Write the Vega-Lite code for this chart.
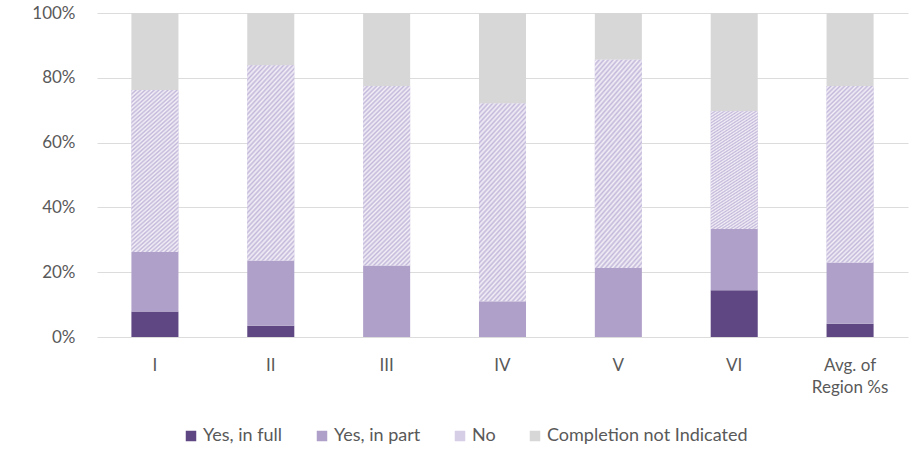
{
  "$schema": "https://vega.github.io/schema/vega-lite/v6.json",
  "width": 811,
  "height": 324,
  "autosize": {"type": "none"},
  "padding": {"left": 97, "top": 13, "right": 14, "bottom": 129},
  "background": "white",
  "config": {
    "view": {"stroke": null},
    "font": "Lato",
    "axis": {"labelFont": "Lato", "labelColor": "#595959", "labelFontSize": 17, "title": null}
  },
  "data": {
    "values": [
      {"region": "I", "cat": "Yes, in full", "k": 1, "value": 7.9},
      {"region": "I", "cat": "Yes, in part", "k": 2, "value": 18.3},
      {"region": "I", "cat": "No", "k": 3, "value": 50.0},
      {"region": "I", "cat": "Completion not Indicated", "k": 4, "value": 23.8},
      {"region": "II", "cat": "Yes, in full", "k": 1, "value": 3.5},
      {"region": "II", "cat": "Yes, in part", "k": 2, "value": 20.1},
      {"region": "II", "cat": "No", "k": 3, "value": 60.3},
      {"region": "II", "cat": "Completion not Indicated", "k": 4, "value": 16.1},
      {"region": "III", "cat": "Yes, in full", "k": 1, "value": 0},
      {"region": "III", "cat": "Yes, in part", "k": 2, "value": 22.1},
      {"region": "III", "cat": "No", "k": 3, "value": 55.4},
      {"region": "III", "cat": "Completion not Indicated", "k": 4, "value": 22.5},
      {"region": "IV", "cat": "Yes, in full", "k": 1, "value": 0},
      {"region": "IV", "cat": "Yes, in part", "k": 2, "value": 11.0},
      {"region": "IV", "cat": "No", "k": 3, "value": 61.1},
      {"region": "IV", "cat": "Completion not Indicated", "k": 4, "value": 27.9},
      {"region": "V", "cat": "Yes, in full", "k": 1, "value": 0},
      {"region": "V", "cat": "Yes, in part", "k": 2, "value": 21.3},
      {"region": "V", "cat": "No", "k": 3, "value": 64.3},
      {"region": "V", "cat": "Completion not Indicated", "k": 4, "value": 14.4},
      {"region": "VI", "cat": "Yes, in full", "k": 1, "value": 14.4},
      {"region": "VI", "cat": "Yes, in part", "k": 2, "value": 18.9},
      {"region": "VI", "cat": "No", "k": 3, "value": 36.4},
      {"region": "VI", "cat": "Completion not Indicated", "k": 4, "value": 30.3},
      {"region": "Avg. of Region %s", "cat": "Yes, in full", "k": 1, "value": 4.1},
      {"region": "Avg. of Region %s", "cat": "Yes, in part", "k": 2, "value": 18.9},
      {"region": "Avg. of Region %s", "cat": "No", "k": 3, "value": 54.5},
      {"region": "Avg. of Region %s", "cat": "Completion not Indicated", "k": 4, "value": 22.5}
    ]
  },
  "transform": [
    {"stack": "value", "groupby": ["region"], "sort": [{"field": "k", "order": "ascending"}], "as": ["y0", "y1"]}
  ],
  "encoding": {
    "x": {
      "field": "region",
      "type": "nominal",
      "sort": null,
      "scale": {"paddingInner": 0.594, "paddingOuter": 0.297},
      "axis": {
        "labelAngle": 0,
        "ticks": false,
        "domain": false,
        "labelPadding": 20,
        "labelLineHeight": 22,
        "labelExpr": "datum.label == 'Avg. of Region %s' ? ['Avg. of', 'Region %s'] : datum.label"
      }
    },
    "y": {
      "field": "y0",
      "type": "quantitative",
      "scale": {"domain": [0, 100], "nice": false},
      "axis": {
        "values": [0, 20, 40, 60, 80, 100],
        "labelExpr": "datum.value + '%'",
        "ticks": false,
        "domain": false,
        "grid": true,
        "gridColor": "#dcdcdc",
        "gridWidth": 1,
        "labelPadding": 22
      }
    },
    "y2": {"field": "y1"}
  },
  "layer": [
    {
      "mark": {"type": "bar"},
      "encoding": {
        "color": {
          "field": "cat",
          "type": "nominal",
          "scale": {
            "domain": ["Yes, in full", "Yes, in part", "No", "Completion not Indicated"],
            "range": ["#5e4782", "#afa0c9", "#d6cde6", "#d7d7d7"]
          },
          "legend": {
            "title": null,
            "orient": "none",
            "direction": "horizontal",
            "legendX": 85,
            "legendY": 414,
            "symbolType": "square",
            "symbolSize": 110,
            "symbolStrokeWidth": 0,
            "labelFont": "Lato",
            "labelFontSize": 18,
            "labelColor": "#595959",
            "labelOffset": 3,
            "labelLimit": 400,
            "columnPadding": 30
          }
        }
      }
    },
    {
      "transform": [{"filter": "datum.cat == 'No'"}],
      "mark": {
        "type": "bar",
        "fill": {
          "gradient": "linear",
          "x1": 0, "y1": 0, "x2": 0.307, "y2": 1.18,
          "stops": [
            {"offset": 0.00, "color": "#c3b8da"}, {"offset": 0.01, "color": "#f3f0f7"},
            {"offset": 0.02, "color": "#c3b8da"}, {"offset": 0.03, "color": "#f3f0f7"},
            {"offset": 0.04, "color": "#c3b8da"}, {"offset": 0.05, "color": "#f3f0f7"},
            {"offset": 0.06, "color": "#c3b8da"}, {"offset": 0.07, "color": "#f3f0f7"},
            {"offset": 0.08, "color": "#c3b8da"}, {"offset": 0.09, "color": "#f3f0f7"},
            {"offset": 0.10, "color": "#c3b8da"}, {"offset": 0.11, "color": "#f3f0f7"},
            {"offset": 0.12, "color": "#c3b8da"}, {"offset": 0.13, "color": "#f3f0f7"},
            {"offset": 0.14, "color": "#c3b8da"}, {"offset": 0.15, "color": "#f3f0f7"},
            {"offset": 0.16, "color": "#c3b8da"}, {"offset": 0.17, "color": "#f3f0f7"},
            {"offset": 0.18, "color": "#c3b8da"}, {"offset": 0.19, "color": "#f3f0f7"},
            {"offset": 0.20, "color": "#c3b8da"}, {"offset": 0.21, "color": "#f3f0f7"},
            {"offset": 0.22, "color": "#c3b8da"}, {"offset": 0.23, "color": "#f3f0f7"},
            {"offset": 0.24, "color": "#c3b8da"}, {"offset": 0.25, "color": "#f3f0f7"},
            {"offset": 0.26, "color": "#c3b8da"}, {"offset": 0.27, "color": "#f3f0f7"},
            {"offset": 0.28, "color": "#c3b8da"}, {"offset": 0.29, "color": "#f3f0f7"},
            {"offset": 0.30, "color": "#c3b8da"}, {"offset": 0.31, "color": "#f3f0f7"},
            {"offset": 0.32, "color": "#c3b8da"}, {"offset": 0.33, "color": "#f3f0f7"},
            {"offset": 0.34, "color": "#c3b8da"}, {"offset": 0.35, "color": "#f3f0f7"},
            {"offset": 0.36, "color": "#c3b8da"}, {"offset": 0.37, "color": "#f3f0f7"},
            {"offset": 0.38, "color": "#c3b8da"}, {"offset": 0.39, "color": "#f3f0f7"},
            {"offset": 0.40, "color": "#c3b8da"}, {"offset": 0.41, "color": "#f3f0f7"},
            {"offset": 0.42, "color": "#c3b8da"}, {"offset": 0.43, "color": "#f3f0f7"},
            {"offset": 0.44, "color": "#c3b8da"}, {"offset": 0.45, "color": "#f3f0f7"},
            {"offset": 0.46, "color": "#c3b8da"}, {"offset": 0.47, "color": "#f3f0f7"},
            {"offset": 0.48, "color": "#c3b8da"}, {"offset": 0.49, "color": "#f3f0f7"},
            {"offset": 0.50, "color": "#c3b8da"}, {"offset": 0.51, "color": "#f3f0f7"},
            {"offset": 0.52, "color": "#c3b8da"}, {"offset": 0.53, "color": "#f3f0f7"},
            {"offset": 0.54, "color": "#c3b8da"}, {"offset": 0.55, "color": "#f3f0f7"},
            {"offset": 0.56, "color": "#c3b8da"}, {"offset": 0.57, "color": "#f3f0f7"},
            {"offset": 0.58, "color": "#c3b8da"}, {"offset": 0.59, "color": "#f3f0f7"},
            {"offset": 0.60, "color": "#c3b8da"}, {"offset": 0.61, "color": "#f3f0f7"},
            {"offset": 0.62, "color": "#c3b8da"}, {"offset": 0.63, "color": "#f3f0f7"},
            {"offset": 0.64, "color": "#c3b8da"}, {"offset": 0.65, "color": "#f3f0f7"},
            {"offset": 0.66, "color": "#c3b8da"}, {"offset": 0.67, "color": "#f3f0f7"},
            {"offset": 0.68, "color": "#c3b8da"}, {"offset": 0.69, "color": "#f3f0f7"},
            {"offset": 0.70, "color": "#c3b8da"}, {"offset": 0.71, "color": "#f3f0f7"},
            {"offset": 0.72, "color": "#c3b8da"}, {"offset": 0.73, "color": "#f3f0f7"},
            {"offset": 0.74, "color": "#c3b8da"}, {"offset": 0.75, "color": "#f3f0f7"},
            {"offset": 0.76, "color": "#c3b8da"}, {"offset": 0.77, "color": "#f3f0f7"},
            {"offset": 0.78, "color": "#c3b8da"}, {"offset": 0.79, "color": "#f3f0f7"},
            {"offset": 0.80, "color": "#c3b8da"}, {"offset": 0.81, "color": "#f3f0f7"},
            {"offset": 0.82, "color": "#c3b8da"}, {"offset": 0.83, "color": "#f3f0f7"},
            {"offset": 0.84, "color": "#c3b8da"}, {"offset": 0.85, "color": "#f3f0f7"},
            {"offset": 0.86, "color": "#c3b8da"}, {"offset": 0.87, "color": "#f3f0f7"},
            {"offset": 0.88, "color": "#c3b8da"}, {"offset": 0.89, "color": "#f3f0f7"},
            {"offset": 0.90, "color": "#c3b8da"}, {"offset": 0.91, "color": "#f3f0f7"},
            {"offset": 0.92, "color": "#c3b8da"}, {"offset": 0.93, "color": "#f3f0f7"},
            {"offset": 0.94, "color": "#c3b8da"}, {"offset": 0.95, "color": "#f3f0f7"},
            {"offset": 0.96, "color": "#c3b8da"}, {"offset": 0.97, "color": "#f3f0f7"},
            {"offset": 0.98, "color": "#c3b8da"}, {"offset": 0.99, "color": "#f3f0f7"},
            {"offset": 1.00, "color": "#c3b8da"}
          ]
        }
      },
      "encoding": {}
    }
  ]
}
